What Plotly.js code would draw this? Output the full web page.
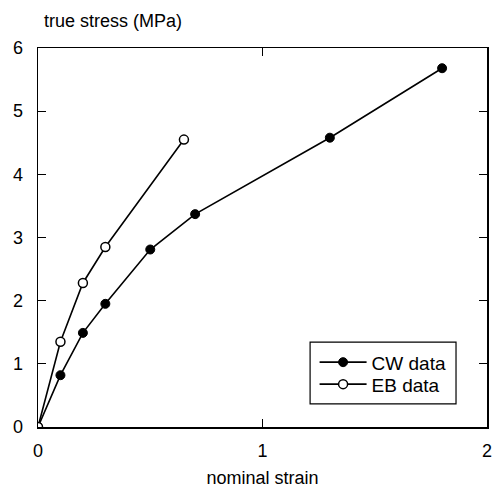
<!DOCTYPE html>
<html>
<head>
<meta charset="utf-8">
<script src="https://cdn.plot.ly/plotly-3.0.1.min.js"></script>
<style>html,body{margin:0;padding:0;background:#fff;}#chart{width:492px;height:488px;}</style>
</head>
<body>
<div id="chart"></div>
<script>
const cwStrain = [0, 0.1, 0.2, 0.3, 0.5, 0.7, 1.3, 1.8];
const cwStress = [0, 0.82, 1.49, 1.95, 2.81, 3.37, 4.58, 5.68];
const ebStrain = [0, 0.1, 0.2, 0.3, 0.65];
const ebStress = [0, 1.35, 2.28, 2.85, 4.55];
const xTicks = [0, 1, 2];
const yTicks = [0, 1, 2, 3, 4, 5, 6];

const font = "Liberation Sans, Arial, Helvetica, sans-serif";

const traces = [
  {x: cwStrain, y: cwStress, name: 'CW data', mode: 'lines+markers', type: 'scatter', legend: 'legend',
   line: {color: '#000', width: 1.6},
   marker: {symbol: 'circle', size: 9, color: '#000', line: {color: '#000', width: 1}}},
  {x: ebStrain, y: ebStress, name: 'EB data', mode: 'lines+markers', type: 'scatter', legend: 'legend2',
   line: {color: '#000', width: 1.6},
   marker: {symbol: 'circle', size: 9, color: '#fff', line: {color: '#000', width: 1.5}}}
];

const axisCommon = {
  showgrid: false, zeroline: false, showline: true, linecolor: '#000', linewidth: 1.5,
  mirror: 'ticks', ticks: 'inside', ticklen: 8, tickwidth: 1.2, tickcolor: '#000',
  ticklabeloverflow: 'allow',
  tickfont: {family: font, size: 18, color: '#000'}
};

const legendCommon = {xanchor: 'left', yanchor: 'top', borderwidth: 0, bgcolor: 'rgba(0,0,0,0)',
  itemwidth: 47, font: {family: font, size: 19, color: '#000'}};

const layout = {
  width: 492, height: 488,
  margin: {l: 38, r: 5, t: 48, b: 61},
  paper_bgcolor: '#fff', plot_bgcolor: '#fff',
  font: {family: font, color: '#000'},
  showlegend: true,
  legend: Object.assign({}, legendCommon, {x: 0.616, y: 0.2208}),
  legend2: Object.assign({}, legendCommon, {x: 0.616, y: 0.1628}),
  xaxis: Object.assign({}, axisCommon, {range: [0, 2], tickvals: xTicks, ticktext: xTicks.map(String),
    ticklabelstandoff: 7,
    title: {text: 'nominal strain', font: {family: font, size: 18, color: '#000'}, standoff: 21}}),
  yaxis: Object.assign({}, axisCommon, {range: [0, 6], tickvals: yTicks, ticktext: yTicks.map(String),
    ticklabelstandoff: 10}),
  shapes: [{type: 'rect', xref: 'paper', yref: 'paper', x0: 0.606, x1: 0.931, y0: 0.061, y1: 0.224,
            line: {color: '#000', width: 1.2}, fillcolor: 'rgba(0,0,0,0)', layer: 'below'}],
  annotations: [{
    text: 'true stress (MPa)', xref: 'paper', yref: 'paper', x: 0.01, y: 1.04,
    xanchor: 'left', yanchor: 'bottom', showarrow: false,
    font: {family: font, size: 18, color: '#000'}
  }]
};

Plotly.newPlot('chart', traces, layout, {displayModeBar: false, staticPlot: true});
</script>
</body>
</html>
